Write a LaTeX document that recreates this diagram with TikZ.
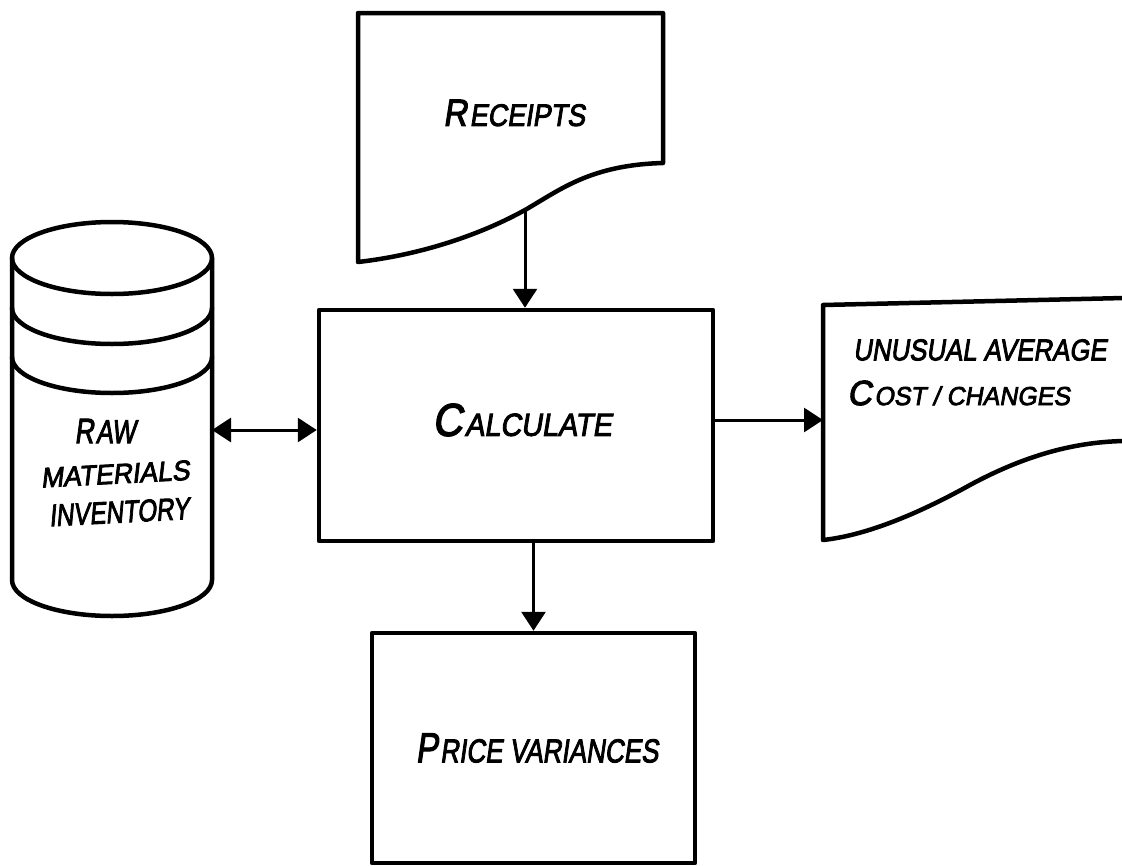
\documentclass[tikz,border=0pt]{standalone}
\usepackage{graphicx}
\usepackage{fontspec}
\setmainfont{Liberation Sans}
\newfontfamily\hand[FakeBold=3, FakeSlant=0.18]{Liberation Sans}
\usetikzlibrary{arrows.meta}
% text size helper: \fs{size}{text}
\newcommand{\fs}[2]{{\fontsize{#1}{#1}\selectfont #2}}
% horizontal squeeze helper: \hs{factor}{text}
\newcommand{\hs}[2]{\scalebox{#1}[1]{#2}}
\begin{document}
\begin{tikzpicture}[x=1pt,y=-1pt,
  outline/.style={line width=4.5pt, line join=round, line cap=round},
  flow/.style={line width=3pt, -{Triangle[length=19pt,width=24pt]}},
  twoway/.style={line width=3pt, {Triangle[length=19pt,width=24pt]}-{Triangle[length=19pt,width=24pt]}},
  label/.style={font=\hand, inner sep=0pt},
  box/.style={outline, draw, inner sep=0pt},
]
\useasboundingbox (0,0) rectangle (1122,865);

% ---- stored data: raw materials inventory (cylinder with two bands)
\draw[outline] (12,258) -- (12,580)
  arc[start angle=180, end angle=360, x radius=100pt, y radius=36pt] -- (212,258);
\draw[outline] (112,258) ellipse [x radius=100pt, y radius=36pt];
\draw[outline] (12,308) arc[start angle=180, end angle=360, x radius=100pt, y radius=36pt];
\draw[outline] (12,357) arc[start angle=180, end angle=360, x radius=100pt, y radius=36pt];
\coordinate (cylR) at (212,430);
\node[label] (raw) at (105,431) {\hs{0.76}{\fs{35}{R}\kern3pt\fs{33}{AW}}};
\node[label, rotate=3] (mat) at (115,474) {\hs{0.95}{\fs{28}{MATERIALS}}};
\node[label, rotate=3] (inv) at (119,512) {\hs{0.78}{\fs{31}{INVENTORY}}};

% ---- document: receipts
\draw[outline] (358,13) -- (663,13) -- (663,163)
  .. controls (590,165) and (560,190) .. (525,210)
  .. controls (480,235) and (420,255) .. (358,262) -- cycle;
\coordinate (recout) at (525,210);
\node[label] (rec) at (514,113) {\hs{0.87}{\fs{38}{R}\kern3pt\fs{31}{ECEIPTS}}};

% ---- process: calculate
\node[box, minimum width=394pt, minimum height=231pt] (calc) at (516,425.5) {};
\node[label] (calctext) at (522,420) {\hs{0.90}{\fs{46}{C}\kern3pt\fs{32}{ALCULATE}}};

% ---- document: unusual average cost changes
\draw[outline] (1124,298) -- (823,305) -- (823,540)
  .. controls (870,535) and (925,510) .. (970,485)
  .. controls (1020,458) and (1070,442) .. (1124,441);
\coordinate (docL) at (823,420);
\node[label, anchor=west] (unusual) at (853,350) {\hs{0.86}{\fs{30}{UNUSUAL AVERAGE}}};
\node[label, anchor=west] (cost) at (847,393) {\hs{0.96}{\fs{35}{C}\kern3pt\fs{26}{OST / CHANGES}}};

% ---- output: price variances
\node[box, minimum width=323pt, minimum height=230pt] (price) at (533.5,748) {};
\node[label] (pricetext) at (537,748) {\hs{0.79}{\fs{42}{P}\kern3pt\fs{33}{RICE VARIANCES}}};

% ---- flows
\draw[flow] (recout) -- (recout |- calc.north);
\draw[twoway] (cylR) -- (cylR -| calc.west);
\draw[flow] (calc.east |- docL) -- (docL);
\draw[flow] (calc.south -| price.north) -- (price.north);
\end{tikzpicture}
\end{document}
